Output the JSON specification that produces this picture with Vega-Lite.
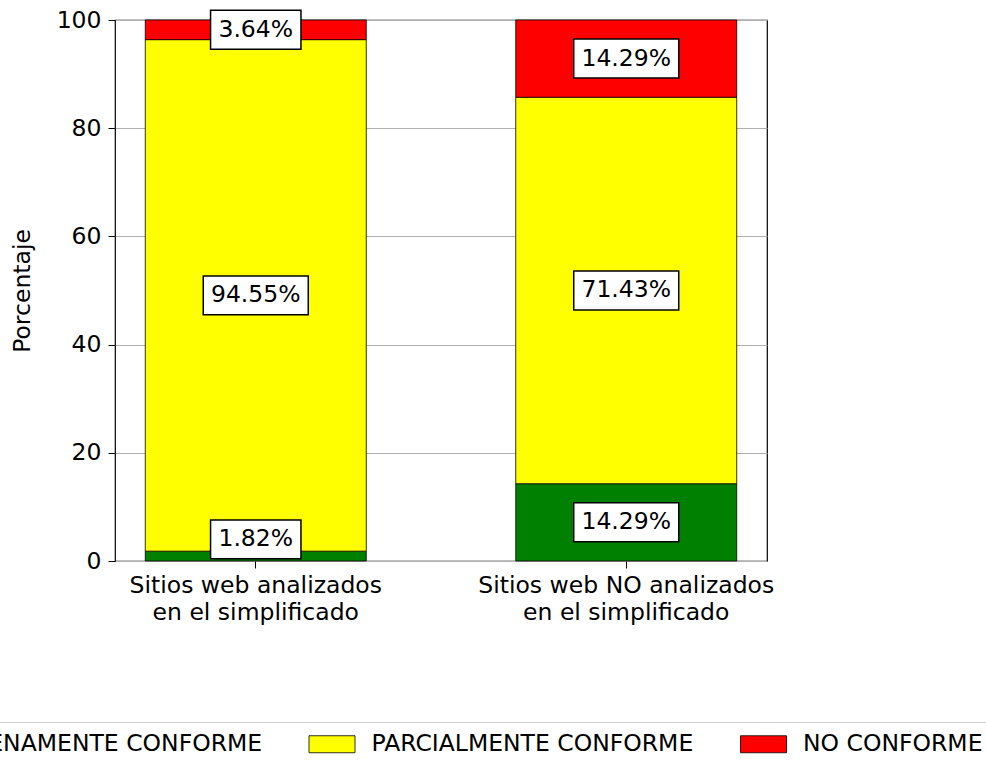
{
  "$schema": "https://vega.github.io/schema/vega-lite/v6.json",
  "autosize": {"type": "none"},
  "width": 652,
  "height": 541,
  "padding": {"left": 115, "top": 20, "right": 219, "bottom": 200},
  "background": "white",
  "config": {
    "font": "DejaVu Sans",
    "view": {"stroke": "black", "strokeWidth": 1.2},
    "axis": {"labelFont": "DejaVu Sans", "titleFont": "DejaVu Sans", "labelColor": "black", "titleColor": "black"}
  },
  "data": {
    "values": [
      {"sitio": "Sitios web analizados|\u00a0en el simplificado", "estado": "PLENAMENTE CONFORME", "orden": 1, "pct": 1.82},
      {"sitio": "Sitios web analizados|\u00a0en el simplificado", "estado": "PARCIALMENTE CONFORME", "orden": 2, "pct": 94.55},
      {"sitio": "Sitios web analizados|\u00a0en el simplificado", "estado": "NO CONFORME", "orden": 3, "pct": 3.64},
      {"sitio": "Sitios web NO analizados|\u00a0en el simplificado", "estado": "PLENAMENTE CONFORME", "orden": 1, "pct": 14.29},
      {"sitio": "Sitios web NO analizados|\u00a0en el simplificado", "estado": "PARCIALMENTE CONFORME", "orden": 2, "pct": 71.43},
      {"sitio": "Sitios web NO analizados|\u00a0en el simplificado", "estado": "NO CONFORME", "orden": 3, "pct": 14.29}
    ]
  },
  "transform": [
    {"stack": "pct", "groupby": ["sitio"], "sort": [{"field": "orden", "order": "ascending"}], "as": ["y0", "y1"]},
    {"calculate": "max((datum.y0 + datum.y1) / 2, 4)", "as": "ymid"},
    {"calculate": "format(datum.pct, '.2f') + '%'", "as": "label"}
  ],
  "encoding": {
    "x": {
      "field": "sitio",
      "type": "nominal",
      "sort": null,
      "scale": {"paddingInner": 0.4035, "paddingOuter": 0.0817},
      "axis": {
        "title": null,
        "labelAngle": 0,
        "labelExpr": "split(datum.label, '|')",
        "labelFontSize": 23.5,
        "labelLineHeight": 27,
        "labelPadding": 5,
        "labelLimit": 600,
        "tickSize": 7,
        "tickColor": "black",
        "tickWidth": 1,
        "domain": false,
        "grid": false
      }
    }
  },
  "layer": [
    {
      "mark": {"type": "bar", "stroke": "black", "strokeWidth": 0.8, "opacity": 1},
      "encoding": {
        "y": {
          "field": "y0",
          "type": "quantitative",
          "scale": {"domain": [0, 100], "nice": false},
          "axis": {
            "title": "Porcentaje",
            "titleFontSize": 23.5,
            "titleFontWeight": "normal",
            "titlePadding": 22,
            "values": [0, 20, 40, 60, 80, 100],
            "labelFontSize": 23.5,
            "labelPadding": 7,
            "tickSize": 7,
            "tickColor": "black",
            "tickWidth": 1,
            "domain": false,
            "grid": true,
            "gridColor": "#b0b0b0",
            "gridWidth": 1
          }
        },
        "y2": {"field": "y1"},
        "color": {
          "field": "estado",
          "type": "nominal",
          "scale": {
            "domain": ["PLENAMENTE CONFORME", "PARCIALMENTE CONFORME", "NO CONFORME"],
            "range": ["#008000", "#ffff00", "#ff0000"]
          },
          "legend": {
            "orient": "none",
            "legendX": -215.5,
            "legendY": 702,
            "direction": "horizontal",
            "title": null,
            "symbolType": "M-2,-0.74H2V0.74H-2Z",
            "symbolSize": 529,
            "symbolStrokeColor": "black",
            "symbolStrokeWidth": 0.8,
            "symbolOpacity": 1,
            "labelFontSize": 23.5,
            "labelFont": "DejaVu Sans",
            "labelColor": "black",
            "labelLimit": 600,
            "labelOffset": 27.5,
            "columnPadding": 44.5,
            "padding": 10,
            "strokeColor": "#d0d0d0",
            "cornerRadius": 4,
            "fillColor": "white"
          }
        }
      }
    },
    {
      "mark": {"type": "point", "filled": true, "fill": "white", "stroke": "black", "strokeWidth": 1.5, "opacity": 1, "size": 11025},
      "encoding": {
        "y": {"field": "ymid", "type": "quantitative"},
        "shape": {
          "condition": {"test": "length(datum.label) > 5", "value": "M-1,-0.371H1V0.371H-1Z"},
          "value": "M-0.861,-0.371H0.861V0.371H-0.861Z"
        }
      }
    },
    {
      "mark": {"type": "text", "fontSize": 23.5, "font": "DejaVu Sans", "color": "black", "align": "center", "baseline": "middle"},
      "encoding": {
        "y": {"field": "ymid", "type": "quantitative"},
        "text": {"field": "label", "type": "nominal"}
      }
    }
  ]
}
